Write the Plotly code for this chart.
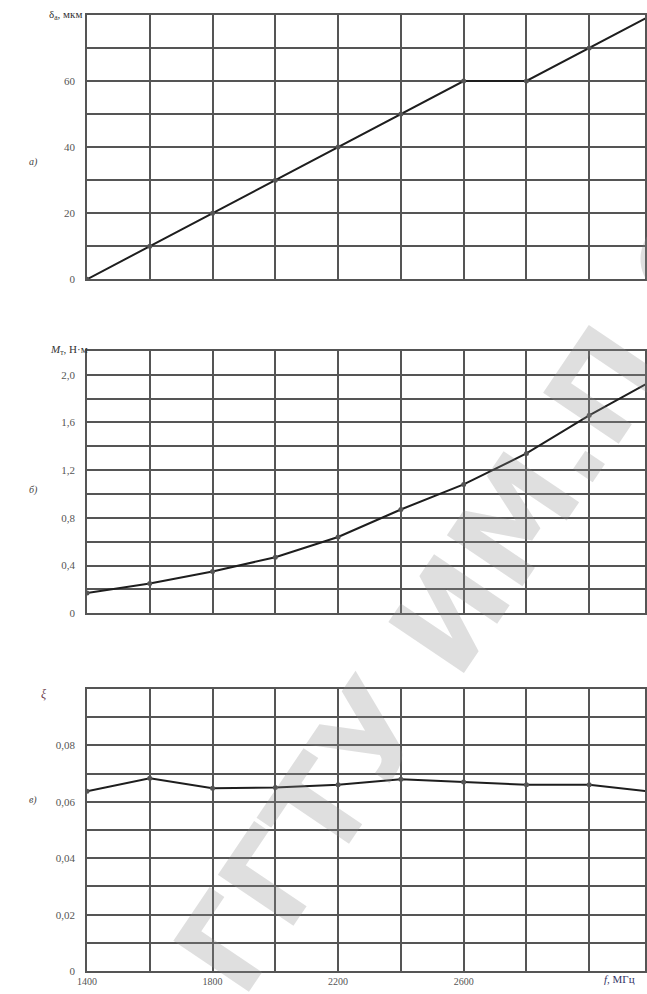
import plotly.graph_objects as go

# ---- data ----
freq = [1400, 1600, 1800, 2000, 2200, 2400, 2600, 2800, 3000, 3200]
delta_a = [0, 10, 20, 30, 40, 50, 60, 60, 70, 80]
moment = [0.17, 0.25, 0.35, 0.47, 0.64, 0.87, 1.08, 1.34, 1.66, 1.95]
ratio = [0.0637, 0.0683, 0.0648, 0.065, 0.066, 0.068, 0.067, 0.066, 0.066, 0.0635]

x_ticks = [1400, 1800, 2200, 2600]
y1_ticks = [0, 20, 40, 60]
y1_text = ["0", "20", "40", "60"]
y2_ticks = [0, 0.4, 0.8, 1.2, 1.6, 2.0]
y2_text = ["0", "0,4", "0,8", "1,2", "1,6", "2,0"]
y3_ticks = [0, 0.02, 0.04, 0.06, 0.08]
y3_text = ["0", "0,02", "0,04", "0,06", "0,08"]
watermark = "ГГТУ ИМ.П.О.СУХОГО"

W, H = 647, 994
L = 87
GRID = "#555555"
FONT = "Liberation Serif"


def dom(top, bottom):
    return [1 - bottom / H, 1 - top / H]


def px(x):
    return (x - L) / (W - L)


def py(y):
    return 1 - y / H


fig = go.Figure()
line = dict(color="#1e1e1e", width=2)
marker = dict(color="#555555", size=5)

fig.add_trace(go.Scatter(x=freq, y=delta_a, mode="lines+markers", line=line,
                         marker=marker, xaxis="x", yaxis="y", showlegend=False))
fig.add_trace(go.Scatter(x=freq, y=moment, mode="lines+markers", line=line,
                         marker=marker, xaxis="x2", yaxis="y2", showlegend=False))
fig.add_trace(go.Scatter(x=freq, y=ratio, mode="lines+markers", line=line,
                         marker=marker, xaxis="x3", yaxis="y3", showlegend=False))

xr = [1400, 1400 + (W - L) / 63.0 * 200]


def xaxis(anchor, show_labels):
    return dict(range=xr, anchor=anchor, domain=[0, 1],
                tickvals=x_ticks, showticklabels=show_labels,
                showgrid=True, gridcolor=GRID, gridwidth=1.6,
                minor=dict(dtick=200, tick0=1400, showgrid=True, gridcolor=GRID, gridwidth=1.6),
                showline=True, linecolor=GRID, linewidth=1.8, mirror=True,
                ticks="", zeroline=False,
                tickfont=dict(family=FONT, size=10, color="#555555"),
                fixedrange=True)


def yaxis(anchor, rng, tv, tt, minor_dt, d):
    return dict(range=rng, anchor=anchor, domain=d, tickvals=tv, ticktext=tt,
                showgrid=True, gridcolor=GRID, gridwidth=1.6,
                minor=dict(dtick=minor_dt, tick0=0, showgrid=True, gridcolor=GRID, gridwidth=1.6),
                showline=True, linecolor=GRID, linewidth=1.8, mirror=True,
                ticks="", zeroline=False, ticklabelstandoff=8,
                tickfont=dict(family=FONT, size=11, color="#555555"),
                fixedrange=True)


fig.update_layout(
    width=W, height=H,
    margin=dict(l=L, r=0, t=0, b=0),
    paper_bgcolor="white", plot_bgcolor="white",
    xaxis=xaxis("y", False),
    xaxis2=xaxis("y2", False),
    xaxis3=xaxis("y3", True),
    yaxis=yaxis("x", [0, 80], y1_ticks, y1_text, 10, dom(15, 281)),
    yaxis2=yaxis("x2", [0, 2.2], y2_ticks, y2_text, 0.2, dom(353, 617)),
    yaxis3=yaxis("x3", [0, 0.1], y3_ticks, y3_text, 0.01, dom(693, 977)),
)

# faint diagonal watermark
fig.add_annotation(text=watermark, x=px(640), y=py(340), xref="paper", yref="paper",
                   xanchor="center", yanchor="middle", showarrow=False, textangle=-56,
                   font=dict(family="DejaVu Sans", size=125, weight="bold",
                             color="rgba(140,140,140,0.28)"))

ann_font = dict(family=FONT, size=11, color="#333333")
for text, x, y in [("а)", 27, 155), ("б)", 27, 493), ("в)", 27, 813)]:
    fig.add_annotation(text=text, x=px(x), y=py(y), xref="paper", yref="paper",
                       showarrow=False,
                       font=dict(family=FONT, size=10, color="#444444", style="italic"))

fig.add_annotation(text="δ<sub>a</sub>, мкм", x=px(84), y=py(15), xref="paper", yref="paper",
                   xanchor="right", yanchor="middle", showarrow=False, font=ann_font)
fig.add_annotation(text="<i>M</i><sub>т</sub>, Н·м", x=px(90), y=py(352), xref="paper", yref="paper",
                   xanchor="right", yanchor="middle", showarrow=False, font=ann_font)
fig.add_annotation(text="<i>ξ</i>", x=px(44), y=py(698), xref="paper", yref="paper",
                   xanchor="center", yanchor="middle", showarrow=False,
                   font=dict(family=FONT, size=12, color="#6b3a4a"))
fig.add_annotation(text="<i>f</i>, МГц", x=px(604), y=py(985), xref="paper", yref="paper",
                   xanchor="left", yanchor="middle", showarrow=False,
                   font=dict(family=FONT, size=11, color="#333366"))

fig.write_html("out.html", config={"displayModeBar": False},
               post_script="document.body.style.margin='0';")
